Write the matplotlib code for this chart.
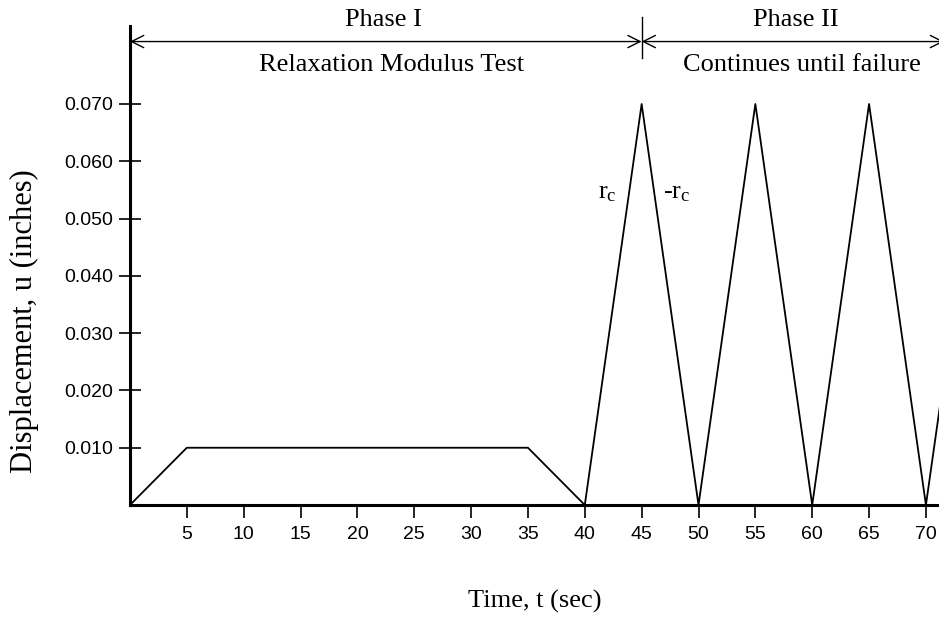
import matplotlib.pyplot as plt

plt.rcParams.update({
    "font.family": "Liberation Serif",
    "mathtext.fontset": "custom",
    "mathtext.rm": "Liberation Serif",
    "mathtext.it": "Liberation Serif",
})

# loading history: displacement (inches) vs time (sec)
time_s = [0, 5, 35, 40, 45, 50, 55, 60, 65, 70, 75]
disp_in = [0, 0.010, 0.010, 0, 0.070, 0, 0.070, 0, 0.070, 0, 0.070]

xticks = [5, 10, 15, 20, 25, 30, 35, 40, 45, 50, 55, 60, 65, 70]
yticks = [0.010, 0.020, 0.030, 0.040, 0.050, 0.060, 0.070]

phase_split = 45
arrow_u = 0.0809

fig = plt.figure(figsize=(9.39, 6.18), dpi=100)
ax = fig.add_axes([0.1384, 0.1828, 0.8616, 0.775])

ax.plot(time_s, disp_in, color="black", lw=1.3)

ax.set_xlim(0, 71.15)
ax.set_ylim(0, 0.0836)

ax.spines["top"].set_visible(False)
ax.spines["right"].set_visible(False)
ax.spines["left"].set_linewidth(2.2)
ax.spines["bottom"].set_linewidth(2.2)

ax.set_xticks(xticks)
ax.set_yticks(yticks)
ax.set_yticklabels([f"{v:.3f}" for v in yticks])
ax.tick_params(axis="x", direction="out", length=9, width=1.2, pad=6)
ax.tick_params(axis="y", direction="inout", length=16, width=1.2, pad=4)
for lab in ax.get_xticklabels() + ax.get_yticklabels():
    lab.set_fontfamily("Liberation Sans")
    lab.set_fontsize(14)

ax.set_xlabel("Time, t (sec)", fontsize=19, labelpad=34)
ax.set_ylabel("Displacement, u (inches)", fontsize=22)
ax.yaxis.set_label_coords(-0.113, 0.384)

# phase arrows along the top
arrow_style = dict(arrowstyle="<->", color="black", lw=1.0,
                   shrinkA=0, shrinkB=0, mutation_scale=22)
ax.annotate("", xy=(0, arrow_u), xytext=(phase_split, arrow_u),
            arrowprops=arrow_style, annotation_clip=False)
ax.annotate("", xy=(phase_split, arrow_u), xytext=(71.6, arrow_u),
            arrowprops=arrow_style, annotation_clip=False)
ax.plot([phase_split, phase_split], [0.0780, 0.0851], color="black",
        lw=1.0, clip_on=False)

ax.text(22.3, 0.0846, "Phase I", ha="center", va="center", fontsize=19)
ax.text(23.0, 0.0768, "Relaxation Modulus Test", ha="center", va="center",
        fontsize=19)
ax.text(58.6, 0.0846, "Phase II", ha="center", va="center", fontsize=19)
ax.text(59.1, 0.0768, "Continues until failure", ha="center", va="center",
        fontsize=19)

# rate labels on the first load cycle
ax.text(41.2, 0.0545, r"r$_\mathregular{c}$", ha="left", va="center", fontsize=19)
ax.text(46.9, 0.0545, r"-r$_\mathregular{c}$", ha="left", va="center", fontsize=19)

fig.savefig("out.png", dpi=100)
